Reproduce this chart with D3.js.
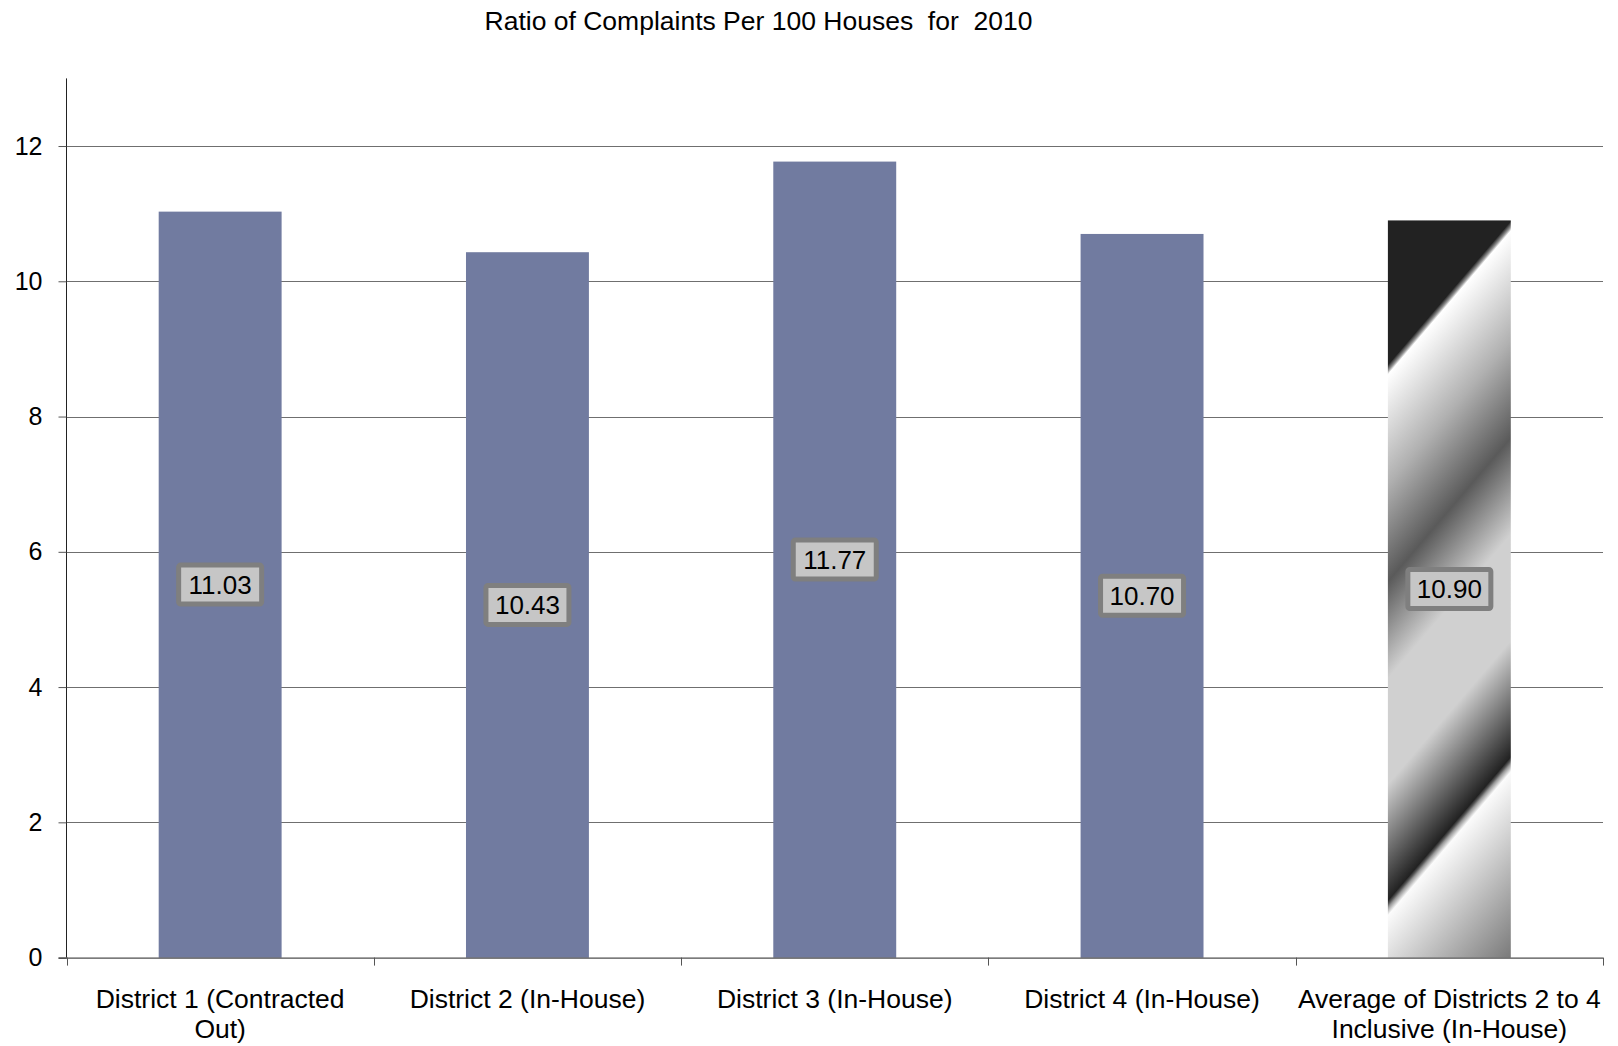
<!DOCTYPE html>
<html>
<head>
<meta charset="utf-8">
<script src="https://cdn.jsdelivr.net/npm/d3@7"></script>
<style>
  html, body { margin: 0; padding: 0; background: #fff; }
  svg { display: block; font-family: "Liberation Sans", Arial, sans-serif; }
</style>
</head>
<body>
<svg id="chart" width="1618" height="1046"></svg>
<script>
// ---- data ----
const chartTitle = "Ratio of Complaints Per 100 Houses  for  2010";
const categories = [
  "District 1 (Contracted Out)",
  "District 2 (In-House)",
  "District 3 (In-House)",
  "District 4 (In-House)",
  "Average of Districts 2 to 4 Inclusive (In-House)"
];
const categoryLines = [
  ["District 1 (Contracted", "Out)"],
  ["District 2 (In-House)"],
  ["District 3 (In-House)"],
  ["District 4 (In-House)"],
  ["Average of Districts 2 to 4", "Inclusive (In-House)"]
];
const values = [11.03, 10.43, 11.77, 10.70, 10.90];
const valueLabels = ["11.03", "10.43", "11.77", "10.70", "10.90"];
const yTicks = [0, 2, 4, 6, 8, 10, 12];
const yMax = 13;

// ---- layout ----
const svg = d3.select("#chart");
const plot = { left: 66.5, right: 1603, top: 78.4, bottom: 957.6 };

const y = d3.scaleLinear().domain([0, yMax]).range([plot.bottom, plot.top]);
const x = d3.scaleBand().domain(categories).range([plot.left, plot.right])
  .paddingInner(0.6).paddingOuter(0.3);
const bounds = d3.scaleLinear().domain([0, categories.length]).range([plot.left, plot.right]);

// title
svg.append("text")
  .attr("x", 758.5).attr("y", 30)
  .attr("text-anchor", "middle")
  .style("white-space", "pre")
  .attr("font-size", 26.5)
  .attr("fill", "#000")
  .text(chartTitle);

// gridlines
svg.append("g").selectAll("line")
  .data(yTicks.filter(d => d > 0))
  .join("line")
  .attr("x1", plot.left).attr("x2", plot.right)
  .attr("y1", d => Math.round(y(d)) + 0.5).attr("y2", d => Math.round(y(d)) + 0.5)
  .attr("stroke", "#6f6f6f").attr("stroke-width", 1);

// gradient for the average bar
const defs = svg.append("defs");
const k = 1.17; // stripe slope
const avgIdx = 4;
const bx = x(categories[avgIdx]), bw = x.bandwidth();
const bt = y(values[avgIdx]), bh = y(0) - y(values[avgIdx]);
const D = bh + k * bw;
const grad = defs.append("linearGradient")
  .attr("id", "avgGrad")
  .attr("gradientUnits", "userSpaceOnUse")
  .attr("x1", bx).attr("y1", bt)
  .attr("x2", bx + k * D / (k * k + 1)).attr("y2", bt + D / (k * k + 1));
const stops = [
  [0, "#222222"], [0.164, "#222222"], [0.167, "#555555"], [0.171, "#999999"],
  [0.175, "#ffffff"], [0.30, "#b0b0b0"], [0.41, "#5a5a5a"], [0.52, "#d0d0d0"],
  [0.64, "#d0d0d0"], [0.772, "#222222"], [0.776, "#555555"], [0.780, "#999999"],
  [0.789, "#fbfbfb"], [1, "#7a7a7a"]
];
grad.selectAll("stop").data(stops).join("stop")
  .attr("offset", d => d[0]).attr("stop-color", d => d[1]);

// bars
svg.append("g").selectAll("rect")
  .data(values)
  .join("rect")
  .attr("x", (d, i) => x(categories[i]))
  .attr("width", x.bandwidth())
  .attr("y", d => y(d))
  .attr("height", d => y(0) - y(d))
  .attr("fill", (d, i) => i === avgIdx ? "url(#avgGrad)" : "#717ba0");

// y axis
const yAxis = d3.axisLeft(y).tickValues(yTicks).tickSize(8).tickPadding(16).tickFormat(d3.format("d"));
const yg = svg.append("g").attr("transform", `translate(${plot.left},0)`).call(yAxis);
yg.select(".domain").attr("stroke", "#222").attr("d", `M0,${plot.top}V${plot.bottom}`);
yg.selectAll(".tick line").attr("stroke", "#555");
yg.selectAll(".tick text").attr("font-size", 25).attr("font-family", "Liberation Sans, Arial, sans-serif").attr("fill", "#000");

// x axis line and boundary ticks
svg.append("line")
  .attr("x1", plot.left - 8).attr("x2", plot.right)
  .attr("y1", plot.bottom + 0.5).attr("y2", plot.bottom + 0.5)
  .attr("stroke", "#222");
svg.append("g").selectAll("line")
  .data(d3.range(categories.length + 1))
  .join("line")
  .attr("x1", d => Math.round(bounds(d)) + 0.5).attr("x2", d => Math.round(bounds(d)) + 0.5)
  .attr("y1", plot.bottom).attr("y2", plot.bottom + 8)
  .attr("stroke", "#555");

// category labels
const xl = svg.append("g").selectAll("text")
  .data(categories)
  .join("text")
  .attr("x", d => x(d) + x.bandwidth() / 2)
  .attr("y", 1008)
  .attr("text-anchor", "middle")
  .attr("font-size", 26.5)
  .attr("fill", "#000");
xl.each(function(d, i) {
  d3.select(this).selectAll("tspan")
    .data(categoryLines[i])
    .join("tspan")
    .attr("x", x(d) + x.bandwidth() / 2)
    .attr("dy", (t, j) => j === 0 ? 0 : 30)
    .text(t => t);
});

// data labels
const lbl = svg.append("g").selectAll("g")
  .data(values)
  .join("g")
  .attr("transform", (d, i) => `translate(${x(categories[i]) + x.bandwidth() / 2},${(y(d) + y(0)) / 2})`);
lbl.append("rect")
  .attr("x", -41.5).attr("y", -19.5)
  .attr("width", 83).attr("height", 39)
  .attr("rx", 2)
  .attr("fill", "#c6c6c6")
  .attr("stroke", "#7f7f7f").attr("stroke-width", 5);
lbl.append("text")
  .attr("text-anchor", "middle")
  .attr("dy", "0.36em")
  .attr("font-size", 26)
  .attr("fill", "#000")
  .text((d, i) => valueLabels[i]);
</script>
</body>
</html>
